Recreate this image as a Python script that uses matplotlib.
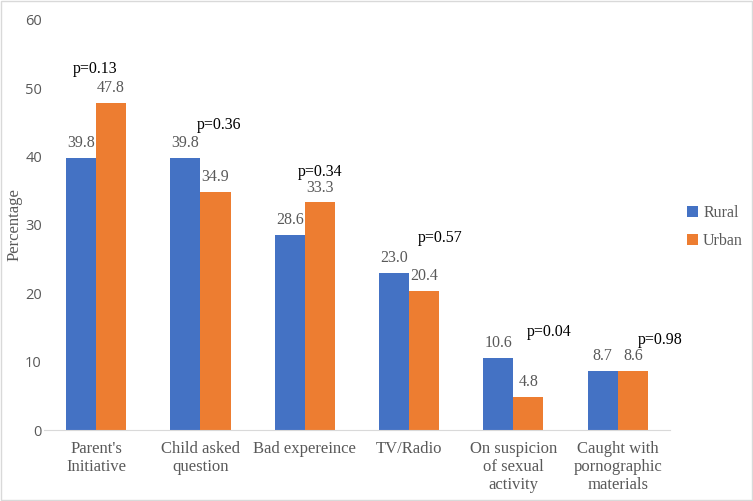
import numpy as np
import matplotlib.pyplot as plt
from matplotlib.patches import Rectangle

plt.rcParams['font.family'] = ['Liberation Serif', 'DejaVu Serif']

categories = ["Parent's\nInitiative", "Child asked\nquestion", "Bad expereince",
              "TV/Radio", "On suspicion\nof sexual\nactivity", "Caught with\npornographic\nmaterials"]
rural = [39.8, 39.8, 28.6, 23.0, 10.6, 8.7]
urban = [47.8, 34.9, 33.3, 20.4, 4.8, 8.6]
p_values = ["0.13", "0.36", "0.34", "0.57", "0.04", "0.98"]

# where the p labels sit (x offset from group centre, y in data units)
p_dx = [-0.01, 0.18, 0.15, 0.30, 0.34, 0.41]
p_y = [52.9, 44.7, 37.8, 28.1, 14.3, 13.2]

blue = '#4472C4'
orange = '#ED7D31'
grey_txt = '#595959'

fig = plt.figure(figsize=(7.53, 5.01), dpi=100)
ax = fig.add_axes([0.0584, 0.1417, 0.8313, 0.8184])

x = np.arange(len(categories))
w = 0.288
b1 = ax.bar(x - w / 2, rural, w, color=blue, label='Rural')
b2 = ax.bar(x + w / 2, urban, w, color=orange, label='Urban')

for bars, vals in [(b1, rural), (b2, urban)]:
    for rect, v in zip(bars, vals):
        ax.annotate(f"{v:.1f}", (rect.get_x() + rect.get_width() / 2, v),
                    xytext=(0, 5), textcoords='offset points',
                    ha='center', va='bottom', fontsize=11.5, color=grey_txt)

for i, p in enumerate(p_values):
    ax.text(x[i] + p_dx[i], p_y[i], f"p={p}", ha='center', va='center',
            fontsize=11.5, color='black')

ax.set_xlim(-0.5, len(categories) - 0.5)
ax.set_ylim(0, 60)
ax.set_yticks(range(0, 61, 10))
ax.set_xticks(x)
ax.set_xticklabels(categories, fontsize=12, color=grey_txt, linespacing=1.15)
ax.tick_params(axis='y', length=0, pad=1.5)
for lab in ax.get_yticklabels():
    lab.set_fontfamily(['Open Sans', 'DejaVu Sans'])
    lab.set_fontsize(10.5)
    lab.set_color(grey_txt)
ax.tick_params(axis='x', length=0, pad=8)
for s in ['top', 'right', 'left']:
    ax.spines[s].set_visible(False)
ax.spines['bottom'].set_color('#D9D9D9')
ax.set_ylabel('Percentage', fontsize=12, color=grey_txt)
ax.yaxis.set_label_coords(-0.035, 0.5)

fig.legend(handles=[b1, b2], labels=['Rural', 'Urban'], loc='center left',
           bbox_to_anchor=(0.902, 0.547), frameon=False, fontsize=11.5,
           handlelength=0.7, handleheight=0.7, handletextpad=0.3,
           labelspacing=0.75, borderpad=0, labelcolor=grey_txt)

fig.patches.append(Rectangle((0.001, 0.001), 0.998, 0.998, transform=fig.transFigure,
                             fill=False, edgecolor='#D9D9D9', linewidth=1))

fig.savefig('out.png', dpi=100)
